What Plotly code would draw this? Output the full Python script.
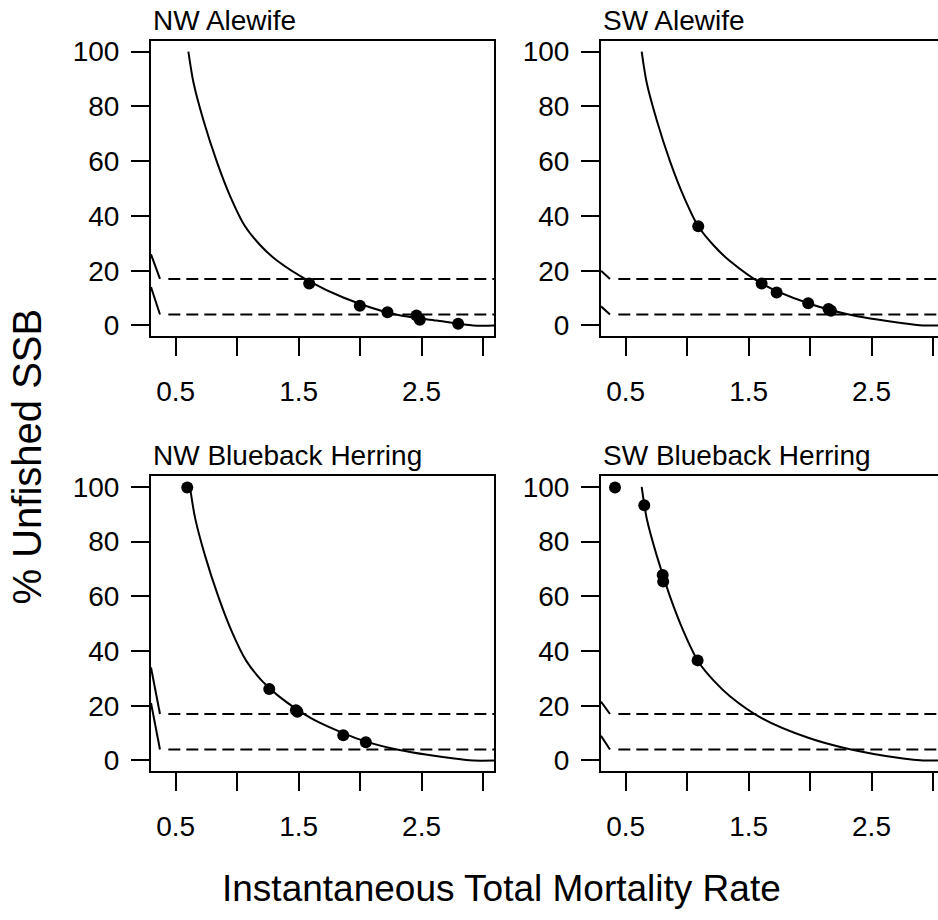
import plotly.graph_objects as go

# ---------------- data ----------------
panel_titles = ["NW Alewife", "SW Alewife", "NW Blueback Herring", "SW Blueback Herring"]

# fitted curves (% unfished SSB vs Z)
nw_ale_curve_x = [0.603, 0.645, 0.725, 0.833, 0.940, 1.060, 1.190, 1.321, 1.592, 1.863, 2.269, 2.622, 2.92, 3.1]
nw_ale_curve_y = [100, 88.6, 75.0, 60.0, 47.5, 36.5, 29.2, 23.8, 16.0, 10.2, 4.2, 1.8, 0.0, 0.0]
sw_ale_curve_x = [0.630, 0.671, 0.752, 0.860, 0.968, 1.090, 1.220, 1.348, 1.606, 1.985, 2.297, 2.757, 2.92, 3.05]
sw_ale_curve_y = [100, 88.6, 75.0, 60.0, 47.5, 36.2, 29.0, 23.5, 15.3, 8.1, 4.2, 0.8, 0.0, 0.0]
nw_bbh_curve_x = [0.616, 0.658, 0.738, 0.846, 0.953, 1.073, 1.200, 1.330, 1.600, 1.970, 2.280, 2.750, 2.92, 3.1]
nw_bbh_curve_y = [100, 88.6, 75.0, 60.0, 47.5, 36.5, 29.2, 23.8, 15.5, 8.1, 4.2, 0.8, 0.0, 0.0]
sw_bbh_curve_x = [0.630, 0.671, 0.752, 0.860, 0.968, 1.090, 1.220, 1.348, 1.606, 1.985, 2.297, 2.757, 2.92, 3.05]
sw_bbh_curve_y = [100, 88.5, 75.0, 60.0, 47.5, 36.2, 29.0, 23.5, 15.5, 8.3, 4.4, 0.7, 0.0, 0.0]

# observed points
nw_ale_pts_x = [1.586, 1.998, 2.223, 2.459, 2.486, 2.798]
nw_ale_pts_y = [15.3, 7.2, 4.8, 3.6, 2.1, 0.6]
sw_ale_pts_x = [1.090, 1.606, 1.728, 1.985, 2.150, 2.170]
sw_ale_pts_y = [36.2, 15.3, 12.0, 8.1, 6.0, 5.4]
nw_bbh_pts_x = [0.594, 1.261, 1.478, 1.490, 1.863, 2.047]
nw_bbh_pts_y = [99.8, 26.1, 18.4, 17.8, 9.2, 6.7]
sw_bbh_pts_x = [0.413, 0.651, 0.801, 0.805, 1.085]
sw_bbh_pts_y = [99.8, 93.3, 67.8, 65.4, 36.6]

# reference levels (dashed) and the clipped lead-in segments
ref_levels = [17, 4]
lead_start_x = 0.299
lead_end_x = 0.372
dash_start_x = 0.44
lead_start_y = {
    "NW Alewife": [26, 14],
    "SW Alewife": [20, 7],
    "NW Blueback Herring": [34, 21],
    "SW Blueback Herring": [21.5, 9],
}

x_tickvals = [0.5, 1.0, 1.5, 2.0, 2.5, 3.0]
x_ticktext = ["0.5", "", "1.5", "", "2.5", ""]
y_tickvals = [0, 20, 40, 60, 80, 100]

curves = [(nw_ale_curve_x, nw_ale_curve_y), (sw_ale_curve_x, sw_ale_curve_y),
          (nw_bbh_curve_x, nw_bbh_curve_y), (sw_bbh_curve_x, sw_bbh_curve_y)]
points = [(nw_ale_pts_x, nw_ale_pts_y), (sw_ale_pts_x, sw_ale_pts_y),
          (nw_bbh_pts_x, nw_bbh_pts_y), (sw_bbh_pts_x, sw_bbh_pts_y)]

# ---------------- layout geometry (pixels) ----------------
W, H = 938, 920
FONT = "Liberation Sans, Arial, sans-serif"
col_px = [(151, 494), (601, 938)]
row_px = [(37, 335.7), (476.7, 775)]
x_ranges = [[0.299, 3.0895], [0.299, 3.041]]
y_range = [-4, 104]

fig = go.Figure()
layout = dict(
    width=W, height=H, margin=dict(l=0, r=0, t=0, b=0),
    paper_bgcolor="white", plot_bgcolor="white", showlegend=False,
    font=dict(family=FONT, color="black"),
)
annotations = []

for i, title in enumerate(panel_titles):
    r, c = divmod(i, 2)
    n = i + 1
    xa = "xaxis" if n == 1 else f"xaxis{n}"
    ya = "yaxis" if n == 1 else f"yaxis{n}"
    xref = "x" if n == 1 else f"x{n}"
    yref = "y" if n == 1 else f"y{n}"
    x0, x1 = col_px[c]
    y0, y1 = row_px[r]
    layout[xa] = dict(
        domain=[x0 / W, x1 / W], range=x_ranges[c], anchor=yref,
        showgrid=False, zeroline=False, showline=True, linecolor="black", linewidth=2,
        mirror=True, ticks="outside", ticklen=18, tickwidth=2, tickcolor="black",
        tickvals=x_tickvals, ticktext=x_ticktext, ticklabelstandoff=11,
        tickfont=dict(size=28, family=FONT, color="black"),
    )
    layout[ya] = dict(
        domain=[1 - y1 / H, 1 - y0 / H], range=y_range, anchor=xref,
        showgrid=False, zeroline=False, showline=True, linecolor="black", linewidth=2,
        mirror=(c == 0), ticks="outside", ticklen=18, tickwidth=2, tickcolor="black",
        tickvals=y_tickvals, ticklabelstandoff=6,
        tickfont=dict(size=28, family=FONT, color="black"),
    )
    # fitted curve
    cx, cy = curves[i]
    fig.add_trace(go.Scatter(x=cx, y=cy, mode="lines",
                             line=dict(color="black", width=2, shape="spline", smoothing=0.8),
                             xaxis=xref, yaxis=yref, hoverinfo="skip"))
    # reference lines
    for lvl, ys in zip(ref_levels, lead_start_y[title]):
        fig.add_trace(go.Scatter(x=[lead_start_x, lead_end_x], y=[ys, lvl], mode="lines",
                                 line=dict(color="black", width=2), xaxis=xref, yaxis=yref, hoverinfo="skip"))
        fig.add_trace(go.Scatter(x=[dash_start_x, x_ranges[c][1]], y=[lvl, lvl], mode="lines",
                                 line=dict(color="black", width=2, dash="12px,6px"),
                                 xaxis=xref, yaxis=yref, hoverinfo="skip"))
    # points
    px_, py_ = points[i]
    fig.add_trace(go.Scatter(x=px_, y=py_, mode="markers", marker=dict(color="black", size=12),
                             xaxis=xref, yaxis=yref, hoverinfo="skip"))
    annotations.append(dict(text=title, xref="paper", yref="paper", x=x0 / W, y=1 - (y0 - 3) / H,
                            xanchor="left", yanchor="bottom", showarrow=False,
                            font=dict(size=28, family=FONT, color="black")))

annotations.append(dict(text="% Unfished SSB", xref="paper", yref="paper", x=27 / W, y=1 - 457 / H,
                        textangle=-90, showarrow=False, xanchor="center", yanchor="middle",
                        font=dict(size=40, family=FONT, color="black")))
annotations.append(dict(text="Instantaneous Total Mortality Rate", xref="paper", yref="paper",
                        x=501 / W, y=1 - 893 / H, showarrow=False, xanchor="center", yanchor="middle",
                        font=dict(size=37, family=FONT, color="black")))
layout["annotations"] = annotations
fig.update_layout(**layout)
fig.write_html("out.html")
